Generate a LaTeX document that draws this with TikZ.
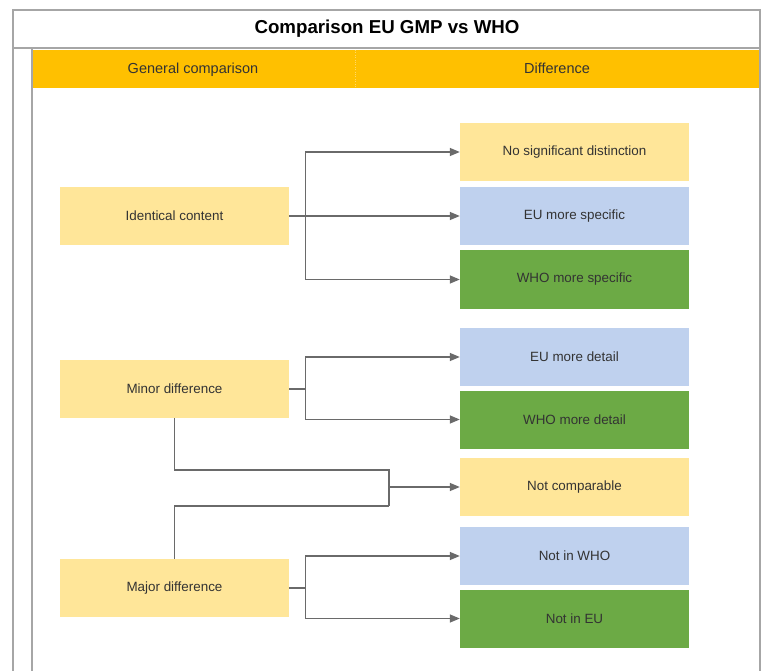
\documentclass[tikz,border=0pt]{standalone}
\usepackage{fontspec}
\setmainfont{Liberation Sans}
\usetikzlibrary{arrows.meta}
\definecolor{frame}{HTML}{A6A6A6}
\definecolor{hdr}{HTML}{FFC000}
\definecolor{ylw}{HTML}{FFE699}
\definecolor{blu}{HTML}{BFD1EE}
\definecolor{grn}{HTML}{6CAA45}
\definecolor{conn}{HTML}{6A6A6A}
\definecolor{txt}{HTML}{333333}
\tikzset{
  box/.style={minimum width=229pt, minimum height=58pt, inner sep=0pt, text=txt,
    font=\fontsize{13.4}{16}\selectfont},
  ybox/.style={box, fill=ylw},
  bbox/.style={box, fill=blu},
  gbox/.style={box, fill=grn},
  link/.style={draw=conn, line width=1.4pt},
  arr/.style={link, -{Triangle[length=10pt,width=8pt]}},
  frm/.style={draw=frame, line width=1.4pt},
  hdrtext/.style={font=\fontsize{14.5}{17}\selectfont, text=txt, anchor=base, inner sep=0pt},
}
\begin{document}
\begin{tikzpicture}[x=1pt,y=-1pt]
\useasboundingbox (0,0) rectangle (766,671);
% frame
\fill[white] (13,10) rectangle (760,671);
\fill[hdr] (32,50) rectangle (760,88);
\draw[frm] (13,671) -- (13,10) -- (760,10) -- (760,671);
\draw[frm] (13,48) -- (760,48);
\draw[frm] (32,48) -- (32,671);
\draw[draw=hdr!60!white, line width=0.4pt, dotted] (355,50) -- (355,88);
\node[font=\bfseries\fontsize{18.7}{22}\selectfont, text=black] (title) at (387,29) {Comparison EU GMP vs WHO};
\node[hdrtext] (h1) at (193,74) {General comparison};
\node[hdrtext] (h2) at (557,74) {Difference};
% left nodes
\node[ybox] (ic) at (174.5,216) {Identical content};
\node[ybox] (minor) at (174.5,389) {Minor difference};
\node[ybox] (major) at (174.5,588) {Major difference};
% right nodes
\node[ybox] (nsd) at (574.5,152) {No significant distinction};
\node[bbox] (eus) at (574.5,216) {EU more specific};
\node[gbox] (whos) at (574.5,279.5) {WHO more specific};
\node[bbox] (eud) at (574.5,357) {EU more detail};
\node[gbox] (whod) at (574.5,419.5) {WHO more detail};
\node[ybox] (nc) at (574.5,487) {Not comparable};
\node[bbox] (nwho) at (574.5,556) {Not in WHO};
\node[gbox] (neu) at (574.5,618.5) {Not in EU};
% connectors
\draw[arr] (ic.east) -- ++(16,0) |- (nsd.west);
\draw[arr] (ic.east) -- (eus.west);
\draw[arr] (ic.east) -- ++(16,0) |- (whos.west);
\draw[arr] (minor.east) -- ++(16,0) |- (eud.west);
\draw[arr] (minor.east) -- ++(16,0) |- (whod.west);
\coordinate (j1) at (389,470);
\coordinate (j2) at (389,506);
\draw[link] (minor.south) |- (j1) -- (j2);
\draw[link] (major.north) |- (j2);
\draw[arr] (j1 |- nc.west) -- (nc.west);
\draw[arr] (major.east) -- ++(16,0) |- (nwho.west);
\draw[arr] (major.east) -- ++(16,0) |- (neu.west);
\end{tikzpicture}
\end{document}
